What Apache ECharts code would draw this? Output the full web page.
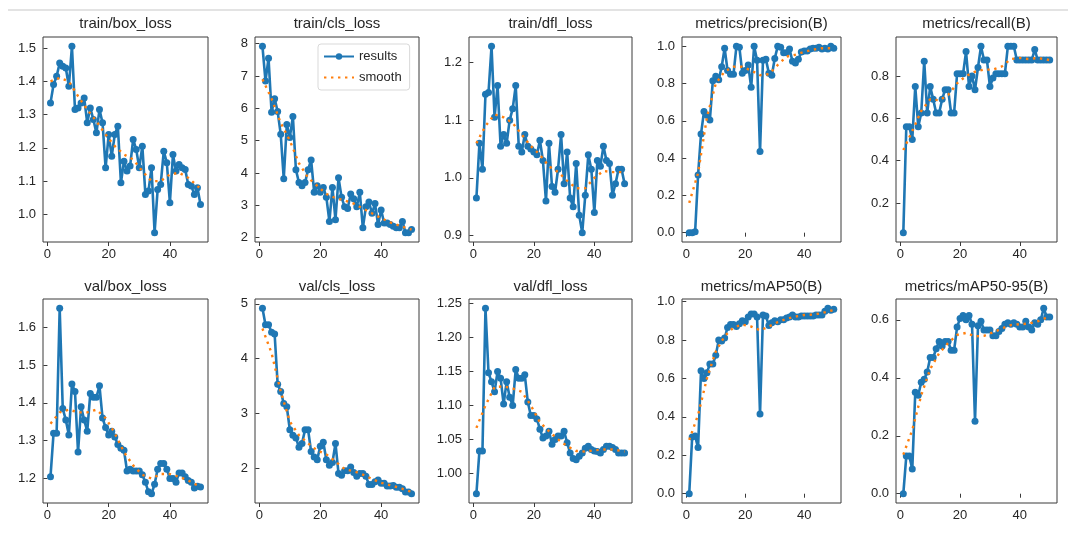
<!DOCTYPE html>
<html>
<head>
<meta charset="utf-8">
<title>results</title>
<script src="https://cdn.jsdelivr.net/npm/echarts@6/dist/echarts.min.js"></script>
<style>
html, body { margin: 0; padding: 0; background: #fff; }
#results { width: 1079px; height: 534px; }
</style>
</head>
<body>
<div id="results"></div>
<script>
var epochs = [1,2,3,4,5,6,7,8,9,10,11,12,13,14,15,16,17,18,19,20,21,22,23,24,25,26,27,28,29,30,31,32,33,34,35,36,37,38,39,40,41,42,43,44,45,46,47,48,49,50]
var smoothEpochs = [1,4,7,10,13,16,19,22,25,28,31,34,37,40,43,46,49,50]
var xTicks = [0, 20, 40]

var trainBoxLoss = [1.335,1.39,1.415,1.455,1.445,1.44,1.385,1.505,1.315,1.32,
	1.335,1.35,1.275,1.32,1.285,1.245,1.315,1.275,1.14,1.24,
	1.175,1.24,1.265,1.095,1.16,1.13,1.145,1.225,1.195,1.14,
	1.205,1.06,1.07,1.14,0.945,1.075,1.09,1.19,1.155,1.035,
	1.18,1.13,1.15,1.14,1.135,1.09,1.085,1.06,1.08,1.03]
var trainBoxSmooth = [1.40,1.41,1.40,1.355,1.315,1.28,1.24,1.205,1.18,1.165,1.13,1.10,1.10,1.12,1.125,1.11,1.085,1.078]
var trainBoxTicks = [1.0,1.1,1.2,1.3,1.4,1.5]

var trainClsLoss = [7.92,6.85,7.55,5.88,6.3,5.9,5.2,3.82,5.5,5.1,
	5.75,4.1,3.7,3.6,3.7,4.1,4.4,3.4,3.6,3.4,
	3.55,3.25,2.5,3.55,2.55,3.85,3.25,2.95,2.9,3.35,
	3.2,2.95,3.4,2.3,2.95,3.1,2.75,3.05,2.4,2.85,
	2.45,2.45,2.4,2.35,2.3,2.3,2.5,2.15,2.15,2.25]
var trainClsSmooth = [6.9,6.3,5.55,5.0,4.3,3.85,3.6,3.35,3.22,3.15,3.05,2.9,2.75,2.6,2.47,2.37,2.27,2.25]
var trainClsTicks = [2,3,4,5,6,7,8]

var trainDflLoss = [0.965,1.06,1.015,1.145,1.148,1.228,1.105,1.16,1.055,1.075,
	1.06,1.1,1.12,1.16,1.055,1.045,1.075,1.055,1.05,1.045,
	1.04,1.065,1.03,0.96,1.06,0.985,0.975,1.015,1.075,0.99,
	1.045,0.965,0.95,1.025,0.935,0.905,0.97,1.04,1.015,0.94,
	1.03,1.02,1.055,1.03,1.025,0.97,0.99,1.015,1.015,0.99]
var trainDflSmooth = [1.06,1.09,1.11,1.105,1.095,1.075,1.055,1.04,1.02,1.01,0.995,0.982,0.982,1.0,1.012,1.01,1.01,1.005]
var trainDflTicks = [0.9,1.0,1.1,1.2]

var precision = [0.0,0.0,0.005,0.31,0.53,0.65,0.63,0.605,0.815,0.84,
	0.82,0.89,0.99,0.87,0.85,0.85,1.0,0.995,0.855,0.87,
	0.9,0.78,1.0,0.925,0.435,0.925,0.93,0.855,0.845,0.935,
	1.0,0.995,0.965,0.965,0.985,0.92,0.91,0.93,0.97,0.975,
	0.975,0.985,0.99,0.99,0.995,0.985,0.99,0.985,1.0,0.99]
var precisionSmooth = [0.16,0.32,0.62,0.80,0.865,0.89,0.89,0.87,0.845,0.85,0.90,0.945,0.955,0.97,0.982,0.99,0.99,0.99]
var precisionTicks = [0.0,0.2,0.4,0.6,0.8,1.0]

var recall = [0.06,0.56,0.56,0.5,0.75,0.56,0.625,0.87,0.625,0.75,
	0.69,0.625,0.625,0.69,0.735,0.735,0.625,0.625,0.81,0.81,
	0.81,0.915,0.75,0.8,0.735,0.84,0.94,0.875,0.875,0.75,
	0.79,0.81,0.81,0.81,0.81,0.94,0.94,0.94,0.875,0.875,
	0.875,0.875,0.875,0.875,0.925,0.875,0.875,0.875,0.875,0.875]
var recallSmooth = [0.45,0.54,0.635,0.69,0.685,0.71,0.765,0.80,0.82,0.83,0.83,0.845,0.88,0.885,0.88,0.885,0.878,0.875]
var recallTicks = [0.2,0.4,0.6,0.8]

var valBoxLoss = [1.205,1.32,1.32,1.65,1.385,1.355,1.315,1.45,1.43,1.27,
	1.39,1.355,1.325,1.425,1.415,1.415,1.445,1.36,1.335,1.315,
	1.325,1.31,1.29,1.28,1.275,1.22,1.225,1.22,1.22,1.22,
	1.21,1.19,1.165,1.16,1.185,1.225,1.24,1.24,1.225,1.2,
	1.2,1.19,1.215,1.215,1.205,1.195,1.19,1.175,1.18,1.178]
var valBoxSmooth = [1.345,1.375,1.382,1.375,1.375,1.382,1.36,1.32,1.27,1.235,1.21,1.20,1.212,1.212,1.205,1.195,1.182,1.18]
var valBoxTicks = [1.2,1.3,1.4,1.5,1.6]

var valClsLoss = [4.92,4.62,4.62,4.48,4.45,3.53,3.4,3.18,3.12,2.7,
	2.6,2.55,2.38,2.45,2.7,2.7,2.3,2.2,2.15,2.4,
	2.47,2.15,2.05,2.1,2.45,1.9,1.87,1.95,1.95,2.02,
	1.92,1.85,1.9,1.9,1.85,1.7,1.7,1.75,1.78,1.72,
	1.72,1.67,1.67,1.68,1.65,1.65,1.62,1.56,1.56,1.53]
var valClsSmooth = [4.55,4.1,3.4,2.85,2.6,2.45,2.32,2.25,2.12,1.98,1.94,1.88,1.8,1.73,1.685,1.64,1.58,1.57]
var valClsTicks = [2,3,4,5]

var valDflLoss = [0.97,1.033,1.033,1.243,1.148,1.135,1.12,1.15,1.14,1.102,
	1.135,1.112,1.1,1.153,1.14,1.14,1.145,1.105,1.085,1.085,
	1.08,1.065,1.052,1.055,1.062,1.043,1.05,1.055,1.055,1.062,
	1.045,1.03,1.022,1.02,1.025,1.03,1.037,1.04,1.035,1.033,
	1.032,1.03,1.035,1.04,1.04,1.038,1.035,1.03,1.03,1.03]
var valDflSmooth = [1.067,1.1,1.127,1.128,1.125,1.12,1.1,1.075,1.062,1.05,1.04,1.033,1.032,1.034,1.035,1.035,1.033,1.032]
var valDflTicks = [1.00,1.05,1.10,1.15,1.20,1.25]

var mAP50 = [0.0,0.295,0.3,0.24,0.64,0.6,0.63,0.675,0.675,0.72,
	0.8,0.795,0.81,0.865,0.88,0.88,0.87,0.885,0.9,0.895,
	0.92,0.935,0.935,0.92,0.415,0.93,0.925,0.875,0.89,0.9,
	0.895,0.905,0.905,0.915,0.92,0.93,0.92,0.92,0.925,0.925,
	0.925,0.925,0.925,0.93,0.93,0.93,0.95,0.965,0.955,0.96]
var mAP50Smooth = [0.28,0.41,0.6,0.74,0.82,0.865,0.88,0.87,0.85,0.87,0.893,0.91,0.922,0.93,0.932,0.94,0.952,0.955]
var mAP50Ticks = [0.0,0.2,0.4,0.6,0.8,1.0]

var mAP5095 = [0.0,0.13,0.13,0.085,0.35,0.34,0.385,0.395,0.42,0.47,
	0.47,0.5,0.525,0.51,0.525,0.525,0.495,0.495,0.575,0.605,
	0.615,0.6,0.615,0.585,0.25,0.58,0.595,0.565,0.565,0.565,
	0.545,0.545,0.56,0.57,0.585,0.59,0.585,0.59,0.585,0.575,
	0.575,0.595,0.575,0.565,0.59,0.585,0.6,0.64,0.61,0.61]
var mAP5095Smooth = [0.135,0.22,0.34,0.43,0.485,0.52,0.548,0.555,0.543,0.545,0.557,0.57,0.582,0.585,0.587,0.595,0.608,0.61]
var mAP5095Ticks = [0.0,0.2,0.4,0.6]

var panels = [
	{ title: 'train/box_loss', y: trainBoxLoss, s: trainBoxSmooth, ticks: trainBoxTicks, dec: 1 },
	{ title: 'train/cls_loss', y: trainClsLoss, s: trainClsSmooth, ticks: trainClsTicks, dec: 0 },
	{ title: 'train/dfl_loss', y: trainDflLoss, s: trainDflSmooth, ticks: trainDflTicks, dec: 1 },
	{ title: 'metrics/precision(B)', y: precision, s: precisionSmooth, ticks: precisionTicks, dec: 1 },
	{ title: 'metrics/recall(B)', y: recall, s: recallSmooth, ticks: recallTicks, dec: 1 },
	{ title: 'val/box_loss', y: valBoxLoss, s: valBoxSmooth, ticks: valBoxTicks, dec: 1 },
	{ title: 'val/cls_loss', y: valClsLoss, s: valClsSmooth, ticks: valClsTicks, dec: 0 },
	{ title: 'val/dfl_loss', y: valDflLoss, s: valDflSmooth, ticks: valDflTicks, dec: 2 },
	{ title: 'metrics/mAP50(B)', y: mAP50, s: mAP50Smooth, ticks: mAP50Ticks, dec: 1 },
	{ title: 'metrics/mAP50-95(B)', y: mAP5095, s: mAP5095Smooth, ticks: mAP5095Ticks, dec: 1 }
]

// pixel layout of the 2x5 subplots
var colLeft = [43, 255, 469, 682, 896]
var colWidth = [165, 164, 163, 159, 161]
var rowTop = [37, 299]
var rowHeight = [205, 204]
var titleTop = [16, 279]

var FONT = '"Liberation Sans", Arial, sans-serif'
var BLUE = '#1f77b4'
var ORANGE = '#ff7f0e'
var INK = '#262626'

// matplotlib style 5% margins
function padRange(a, b) {
	var all = a.concat(b)
	var lo = Math.min.apply(null, all)
	var hi = Math.max.apply(null, all)
	var m = (hi - lo) * 0.05
	return [lo - m, hi + m]
}

function pairs(xs, ys) {
	var arr = []
	for(var i = 0; i < ys.length; i ++) arr.push([xs[i], ys[i]])
	return arr
}

var grids = [], xAxes = [], yAxes = [], series = [], titles = []

for(var i = 0; i < panels.length; i ++) {
	var p = panels[i]
	var row = Math.floor(i / 5), col = i % 5
	var r = padRange(p.y, p.s)
	var dec = p.dec

	grids.push({
		left: colLeft[col], top: rowTop[row],
		width: colWidth[col], height: rowHeight[row],
		show: true, borderColor: '#3a3a3a', borderWidth: 1, backgroundColor: 'transparent'
	})
	titles.push({
		text: p.title,
		left: colLeft[col] + colWidth[col] / 2, top: titleTop[row],
		textAlign: 'center', padding: 0,
		textStyle: { fontFamily: FONT, fontSize: 15, fontWeight: 'normal', color: INK }
	})
	xAxes.push({
		type: 'value', gridIndex: i, min: -1.45, max: 52.45,
		axisLine: { show: false },
		splitLine: { show: false },
		axisTick: { show: true, inside: false, length: 4, customValues: xTicks, lineStyle: { color: '#3a3a3a' } },
		axisLabel: { customValues: xTicks, margin: 6, fontFamily: FONT, fontSize: 13, color: INK }
	})
	yAxes.push({
		type: 'value', gridIndex: i, min: r[0], max: r[1],
		axisLine: { show: false },
		splitLine: { show: false },
		axisTick: { show: true, inside: false, length: 4, customValues: p.ticks, lineStyle: { color: '#3a3a3a' } },
		axisLabel: {
			customValues: p.ticks, margin: 7, fontFamily: FONT, fontSize: 13, color: INK,
			formatter: (function(d) { return function(v) { return v.toFixed(d) } })(dec)
		}
	})
	series.push({
		name: 'results', type: 'line', xAxisIndex: i, yAxisIndex: i,
		data: pairs(epochs, p.y),
		symbol: 'circle', symbolSize: 7,
		lineStyle: { color: BLUE, width: 2.6 },
		itemStyle: { color: BLUE },
		emphasis: { disabled: true },
		z: 2
	})
	series.push({
		name: 'smooth', type: 'line', xAxisIndex: i, yAxisIndex: i,
		data: pairs(smoothEpochs, p.s),
		symbol: 'none',
		lineStyle: { color: ORANGE, width: 2.4, type: [2.4, 4.6] },
		itemStyle: { color: ORANGE },
		emphasis: { disabled: true },
		z: 3
	})
}

var chart = echarts.init(document.getElementById('results'))
chart.setOption({
	animation: false,
	backgroundColor: '#fff',
	title: titles,
	grid: grids,
	xAxis: xAxes,
	yAxis: yAxes,
	series: series,
	legend: {
		data: ['results', { name: 'smooth', itemStyle: { opacity: 0 } }],
		orient: 'vertical', left: 318, top: 44,
		itemWidth: 30, itemHeight: 8, itemGap: 8,
		padding: [6, 8, 6, 5],
		backgroundColor: '#fff', borderColor: '#d9d9d9', borderWidth: 1, borderRadius: 3,
		selectedMode: false,
		textStyle: { fontFamily: FONT, fontSize: 13, color: INK }
	},
	graphic: [{
		type: 'line', silent: true,
		shape: { x1: 8, y1: 10, x2: 1068, y2: 10 },
		style: { stroke: '#e3e3e3', lineWidth: 2 }
	}]
})
</script>
</body>
</html>
